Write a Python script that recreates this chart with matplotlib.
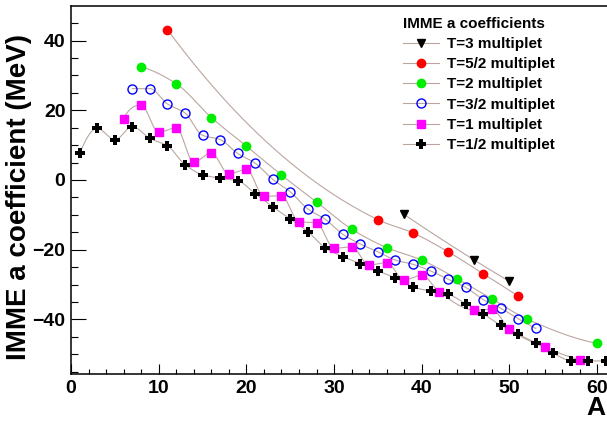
import numpy as np
import matplotlib
matplotlib.use("Agg")
import matplotlib.pyplot as plt
from matplotlib.ticker import MultipleLocator

plt.rcParams['font.family'] = ['Liberation Sans', 'DejaVu Sans']
plt.rcParams['font.weight'] = 'bold'

# IMME a coefficients (MeV), per isospin multiplet
A_t12 = [1, 3, 5, 7, 9, 11, 13, 15, 17, 19, 21, 23, 25, 27, 29, 31, 33, 35, 37, 39,
         41, 43, 45, 47, 49, 51, 53, 55, 57, 59, 61]
a_t12 = [7.6, 14.8, 11.5, 15.3, 11.9, 9.8, 4.4, 1.5, 0.5, -0.2, -3.9, -7.7, -11.2, -14.8,
         -19.5, -22.0, -24.0, -26.1, -28.1, -30.7, -31.9, -32.8, -35.5, -38.4, -41.7,
         -44.3, -46.7, -49.7, -51.8, -51.9, -51.9]

A_t1 = [6, 8, 10, 12, 14, 16, 18, 20, 22, 24, 26, 28, 30, 32, 34, 36, 38, 40, 42, 46,
        48, 50, 54, 58]
a_t1 = [17.6, 21.5, 13.7, 15.0, 5.1, 7.8, 1.7, 3.1, -4.7, -4.5, -12.0, -12.3, -19.6,
        -19.2, -24.4, -23.7, -28.7, -27.3, -32.2, -37.3, -37.1, -42.8, -48.0, -51.6]

A_t32 = [7, 9, 11, 13, 15, 17, 19, 21, 23, 25, 27, 29, 31, 33, 35, 37, 39, 41, 43, 45,
         47, 49, 51, 53]
a_t32 = [26.2, 26.2, 21.8, 19.2, 12.8, 11.6, 7.6, 4.8, 0.2, -3.4, -8.3, -11.3, -15.6,
         -18.4, -20.6, -23.0, -24.2, -26.1, -28.5, -30.8, -34.3, -36.8, -39.8, -42.6]

A_t2 = [8, 12, 16, 20, 24, 28, 32, 36, 40, 44, 48, 52, 60]
a_t2 = [32.4, 27.6, 17.9, 9.7, 1.4, -6.3, -14.1, -19.4, -23.0, -28.3, -34.1, -39.9, -46.9]

A_t52 = [11, 35, 39, 43, 47, 51]
a_t52 = [43.1, -11.4, -15.2, -20.6, -26.9, -33.3]

A_t3 = [38, 46, 50]
a_t3 = [-9.9, -23.0, -29.1]

labels = ["T=3 multiplet", "T=5/2 multiplet", "T=2 multiplet",
          "T=3/2 multiplet", "T=1 multiplet", "T=1/2 multiplet"]


def smooth(x, y, n=25):
    # monotone cubic (pchip-like) curve through the points, like ROOT's "C" option
    x = np.asarray(x, float)
    y = np.asarray(y, float)
    h = np.diff(x)
    d = np.diff(y) / h
    m = np.zeros_like(y)
    for k in range(1, len(x) - 1):
        if d[k - 1] * d[k] > 0:
            w1 = 2 * h[k] + h[k - 1]
            w2 = h[k] + 2 * h[k - 1]
            m[k] = (w1 + w2) / (w1 / d[k - 1] + w2 / d[k])

    def end(h0, h1, d0, d1):
        t = ((2 * h0 + h1) * d0 - h0 * d1) / (h0 + h1)
        if np.sign(t) != np.sign(d0):
            return 0.0
        if np.sign(d0) != np.sign(d1) and abs(t) > 3 * abs(d0):
            return 3 * d0
        return t

    m[0] = end(h[0], h[1], d[0], d[1])
    m[-1] = end(h[-1], h[-2], d[-1], d[-2])
    xs, ys = [], []
    for k in range(len(x) - 1):
        t = np.linspace(0, 1, n)
        h00 = 2 * t**3 - 3 * t**2 + 1
        h10 = t**3 - 2 * t**2 + t
        h01 = -2 * t**3 + 3 * t**2
        h11 = t**3 - t**2
        xs.append(x[k] + t * h[k])
        ys.append(h00 * y[k] + h10 * h[k] * m[k] + h01 * y[k + 1] + h11 * h[k] * m[k + 1])
    return np.concatenate(xs), np.concatenate(ys)


W, H = 607, 421
fig = plt.figure(figsize=(W / 100, H / 100), dpi=100)
x0, x1, y0, y1 = 71, 610.3, 6, 374.3
ax = fig.add_axes([x0 / W, 1 - y1 / H, (x1 - x0) / W, (y1 - y0) / H])

line_col = '#bba69f'
series = [
    (A_t3, a_t3, dict(marker='v', ms=6, mfc='black', mec='black')),
    (A_t52, a_t52, dict(marker='o', ms=6, mfc='red', mec='red')),
    (A_t2, a_t2, dict(marker='o', ms=6, mfc='#00ee00', mec='#00ee00')),
    (A_t32, a_t32, dict(marker='o', ms=6.5, mfc='none', mec='blue', mew=1.0)),
    (A_t1, a_t1, dict(marker='s', ms=5.5, mfc='magenta', mec='magenta')),
    (A_t12, a_t12, dict(marker='P', ms=7, mfc='black', mec='black', mew=0)),
]

handles = []
for (xs, ys, style), lab in zip(series, labels):
    cx, cy = smooth(xs, ys)
    ax.plot(cx, cy, color=line_col, lw=0.8, zorder=2)
    ax.plot(xs, ys, ls='none', zorder=3, **style)
    h, = ax.plot([], [], color=line_col, lw=0.8, label=lab, **style)
    handles.append(h)

ax.set_xlim(0, 61.5)
ax.set_ylim(-55.75, 49.9)
ax.xaxis.set_major_locator(MultipleLocator(10))
ax.xaxis.set_minor_locator(MultipleLocator(2))
ax.yaxis.set_major_locator(MultipleLocator(20))
ax.yaxis.set_minor_locator(MultipleLocator(5))
ax.tick_params(axis='x', which='major', direction='in', length=7.5, width=0.8,
               labelsize=14, pad=4, top=False)
ax.tick_params(axis='x', which='minor', direction='in', length=3.3, width=0.8, top=False)
ax.tick_params(axis='y', which='major', direction='in', length=11, width=0.8,
               labelsize=14, pad=4, right=False)
ax.tick_params(axis='y', which='minor', direction='in', length=5.3, width=0.8, right=False)
for s in ax.spines.values():
    s.set_linewidth(1.1)
ax.spines['right'].set_visible(False)

fig.text(19 / W, 1 - 197 / H, "IMME a coefficient (MeV)", rotation=90,
         ha='center', va='center', fontsize=20, fontweight='bold')
fig.text(605 / W, 1 / H, "A", ha='right', va='bottom', fontsize=19, fontweight='bold')

leg = ax.legend(handles=handles, loc='upper left', bbox_to_anchor=(395 / W, 1 - 9 / H),
                bbox_transform=fig.transFigure, frameon=False, title="IMME a coefficients",
                alignment='left', prop=dict(size=11, weight='bold'),
                title_fontproperties=dict(size=11, weight='bold'),
                handlelength=2.4, handletextpad=0.5, labelspacing=0.41, borderpad=0,
                numpoints=1)

fig.savefig("out.png", dpi=100)
